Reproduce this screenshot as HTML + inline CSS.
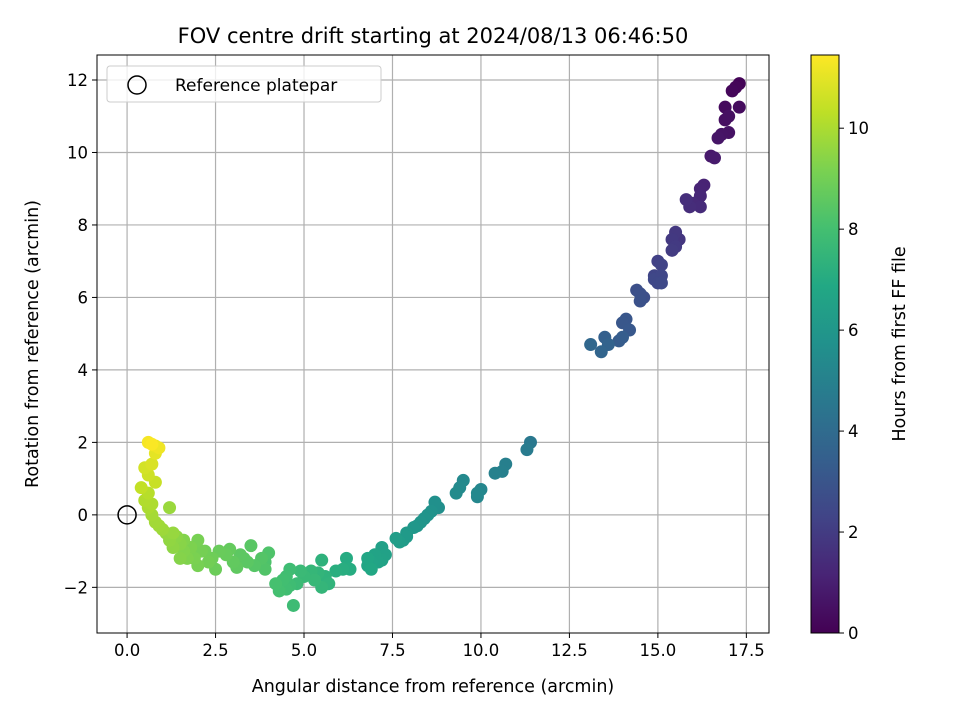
<!DOCTYPE html>
<html><head><meta charset="utf-8">
<style>
html,body{margin:0;padding:0;background:#fff;}
svg{display:block;font-family:"DejaVu Sans","Liberation Sans",sans-serif;}
</style></head>
<body>
<svg id="chart" width="960" height="720" viewBox="0 0 960 720" xmlns="http://www.w3.org/2000/svg">
<defs>
<linearGradient id="viridis" x1="0" y1="1" x2="0" y2="0">
<stop offset="0" stop-color="#440154"/><stop offset="0.1" stop-color="#482475"/><stop offset="0.2" stop-color="#414487"/><stop offset="0.3" stop-color="#355f8d"/><stop offset="0.4" stop-color="#2a788e"/><stop offset="0.5" stop-color="#21918c"/><stop offset="0.6" stop-color="#22a884"/><stop offset="0.7" stop-color="#44bf70"/><stop offset="0.8" stop-color="#7ad151"/><stop offset="0.9" stop-color="#bddf26"/><stop offset="1" stop-color="#fde725"/>
</linearGradient>
<clipPath id="plotclip"><rect x="97" y="55" width="672" height="578"/></clipPath>
</defs>
<text x="433" y="43" font-size="21" text-anchor="middle">FOV centre drift starting at 2024/08/13 06:46:50</text>
<g id="grid"></g>
<g id="points" clip-path="url(#plotclip)"></g>
<rect x="97" y="55" width="672" height="578" fill="none" stroke="#000" stroke-width="1"/>
<g id="xticks"></g>
<g id="yticks"></g>
<text x="433" y="692" font-size="17.5" text-anchor="middle">Angular distance from reference (arcmin)</text>
<text transform="translate(38,344) rotate(-90)" font-size="17.5" text-anchor="middle">Rotation from reference (arcmin)</text>
<g>
<rect x="107" y="66" width="274" height="36" rx="3" fill="#fff" fill-opacity="0.8" stroke="#ccc"/>
<circle cx="137" cy="85" r="9" fill="none" stroke="#000" stroke-width="1.5"/>
<text x="175" y="91" font-size="17">Reference platepar</text>
</g>
<rect x="811" y="55" width="28" height="578" fill="url(#viridis)" stroke="#000" stroke-width="1"/>
<g id="cticks"></g>
<text transform="translate(905,344) rotate(-90)" font-size="17.5" text-anchor="middle">Hours from first FF file</text>
</svg>
<script>
const xTicks=[0,2.5,5,7.5,10,12.5,15,17.5];
const yTicks=[-2,0,2,4,6,8,10,12];
const cTicks=[0,2,4,6,8,10];
const xVals=[17.3,17.2,17.1,16.9,17.3,16.9,17.0,17.0,16.8,16.7,16.5,16.6,16.3,16.2,16.2,16.0,16.2,15.9,15.8,15.6,15.5,15.4,15.5,15.4,15.0,15.1,14.9,14.9,15.1,15.0,15.1,14.6,14.4,14.5,14.5,14.1,14.0,14.2,13.9,14.0,13.5,13.6,13.4,13.1,11.4,11.3,10.7,10.6,10.4,10.0,9.9,9.9,9.5,9.4,9.3,8.8,8.7,8.6,8.5,8.4,8.3,8.2,8.1,7.8,7.9,7.9,7.7,7.6,7.2,7.3,7.2,7.0,7.1,6.9,6.8,6.8,6.9,6.2,6.3,6.1,5.9,5.5,5.6,5.7,5.4,5.5,5.2,5.3,5.0,4.9,4.8,4.7,4.6,4.6,4.5,4.5,4.4,4.3,4.2,3.9,4.0,3.9,3.8,3.6,3.5,3.3,3.4,3.2,3.1,3.0,2.9,2.8,2.6,2.5,2.4,2.2,2.3,2.1,2.0,2.0,1.9,1.8,1.7,1.6,1.6,1.5,1.5,1.4,1.3,1.2,1.1,1.3,1.2,1.0,0.9,0.8,0.7,0.6,0.7,0.5,0.6,0.4,0.8,0.6,0.5,0.7,0.8,0.8,0.9,0.6,0.7];
const yVals=[11.9,11.8,11.7,11.25,11.25,10.9,11.0,10.55,10.5,10.4,9.9,9.85,9.1,9.0,8.8,8.6,8.5,8.5,8.7,7.6,7.8,7.6,7.4,7.3,7.0,6.9,6.6,6.5,6.6,6.4,6.4,6.0,6.2,6.1,5.9,5.4,5.3,5.1,4.8,4.9,4.9,4.7,4.5,4.7,2.0,1.8,1.4,1.2,1.15,0.7,0.5,0.6,0.95,0.75,0.6,0.2,0.35,0.1,0.0,-0.1,-0.2,-0.3,-0.35,-0.7,-0.5,-0.6,-0.75,-0.65,-0.9,-1.1,-1.25,-1.1,-1.3,-1.3,-1.4,-1.2,-1.5,-1.2,-1.5,-1.5,-1.55,-1.25,-1.7,-1.9,-1.6,-2.0,-1.55,-1.8,-1.7,-1.55,-1.9,-2.5,-1.5,-1.95,-1.7,-2.05,-1.8,-2.1,-1.9,-1.3,-1.05,-1.5,-1.2,-1.4,-0.85,-1.2,-1.3,-1.1,-1.45,-1.3,-0.95,-1.1,-1.0,-1.5,-1.2,-1.0,-1.3,-1.0,-0.7,-1.4,-1.2,-0.9,-1.2,-1.0,-0.7,-1.2,-0.8,-0.6,-0.9,-0.7,-0.5,-0.5,0.2,-0.4,-0.3,-0.2,0.0,0.2,0.3,0.4,0.6,0.75,0.9,1.1,1.3,1.4,1.7,1.9,1.85,2.0,1.95];
const hVals=[0.1,0.15,0.2,0.3,0.35,0.45,0.5,0.55,0.6,0.65,0.8,0.85,1.1,1.15,1.25,1.35,1.4,1.45,1.5,1.8,1.85,1.9,1.95,2.0,2.2,2.25,2.35,2.45,2.4,2.45,2.5,2.7,2.75,2.8,2.85,3.05,3.1,3.15,3.3,3.35,3.5,3.6,3.7,3.8,4.6,4.7,4.9,4.95,5.0,5.2,5.25,5.3,5.35,5.4,5.45,5.65,5.7,5.75,5.8,5.85,5.9,5.95,6.0,6.2,6.1,6.15,6.25,6.3,6.45,6.5,6.55,6.6,6.6,6.65,6.7,6.75,6.8,7.0,7.05,7.1,7.15,7.3,7.35,7.4,7.45,7.5,7.55,7.6,7.65,7.7,7.75,7.8,7.85,7.85,7.9,7.9,7.95,8.0,8.05,8.2,8.25,8.3,8.35,8.4,8.45,8.5,8.5,8.55,8.6,8.65,8.7,8.75,8.8,8.85,8.9,8.95,9.0,9.05,9.1,9.1,9.15,9.2,9.25,9.3,9.3,9.35,9.4,9.45,9.5,9.55,9.6,9.65,9.7,9.75,9.8,9.85,9.9,10.0,10.05,10.1,10.2,10.4,10.5,10.6,10.7,10.8,11.0,11.1,11.2,11.3,11.4];
const X0=97,X1=769,Y0=55,Y1=633;
const xMin=-0.85,xMax=18.14,yMin=-3.26,yMax=12.69,cMax=11.45;
function sx(v){return X0+(v-xMin)/(xMax-xMin)*(X1-X0);}
function sy(v){return Y1-(v-yMin)/(yMax-yMin)*(Y1-Y0);}
function cy(v){return Y1-v/cMax*(Y1-Y0);}
const NS="http://www.w3.org/2000/svg";
function mk(tag,attrs,parent){const e=document.createElementNS(NS,tag);for(const k in attrs)e.setAttribute(k,attrs[k]);parent.appendChild(e);return e;}
const vir=[[68,1,84],[72,36,117],[65,68,135],[53,95,141],[42,120,142],[33,145,140],[34,168,132],[68,191,112],[122,209,81],[189,223,38],[253,231,37]];
function color(t){t=Math.max(0,Math.min(1,t))*10;const i=Math.min(9,Math.floor(t)),f=t-i;const a=vir[i],b=vir[i+1];return 'rgb('+a.map((c,k)=>Math.round(c+(b[k]-c)*f)).join(',')+')';}
const grid=document.getElementById('grid'),xt=document.getElementById('xticks'),yt=document.getElementById('yticks'),ct=document.getElementById('cticks'),pts=document.getElementById('points');
xTicks.forEach(v=>{const x=sx(v);
const gl=mk('line',{x1:x,x2:x,y1:Y0,y2:Y1,stroke:'#b0b0b0','stroke-width':1.2},grid);


mk('line',{x1:x,x2:x,y1:Y1,y2:Y1+5,stroke:'#000'},xt);
const t=mk('text',{x:x,y:Y1+23,'font-size':16.5,'text-anchor':'middle'},xt);t.textContent=v.toFixed(1);

});
yTicks.forEach(v=>{const y=sy(v);
const gl=mk('line',{x1:X0,x2:X1,y1:y,y2:y,stroke:'#b0b0b0','stroke-width':1.2},grid);


mk('line',{x1:X0-5,x2:X0,y1:y,y2:y,stroke:'#000'},yt);
const t=mk('text',{x:X0-9,y:y+6,'font-size':16.5,'text-anchor':'end'},yt);t.textContent=(v<0?'\u2212'+(-v):v);

});
cTicks.forEach(v=>{const y=cy(v);
mk('line',{x1:839,x2:844,y1:y,y2:y,stroke:'#000'},ct);
const t=mk('text',{x:848,y:y+6,'font-size':16.5},ct);t.textContent=v;

});
hVals.forEach((h,i)=>{const c=mk('circle',{cx:sx(xVals[i]),cy:sy(yVals[i]),r:6.5,fill:color(h/cMax)},pts);

});
const ref=mk('circle',{cx:sx(0),cy:sy(0),r:9,fill:'none',stroke:'#000','stroke-width':1.5},pts);


</script>
</body></html>
